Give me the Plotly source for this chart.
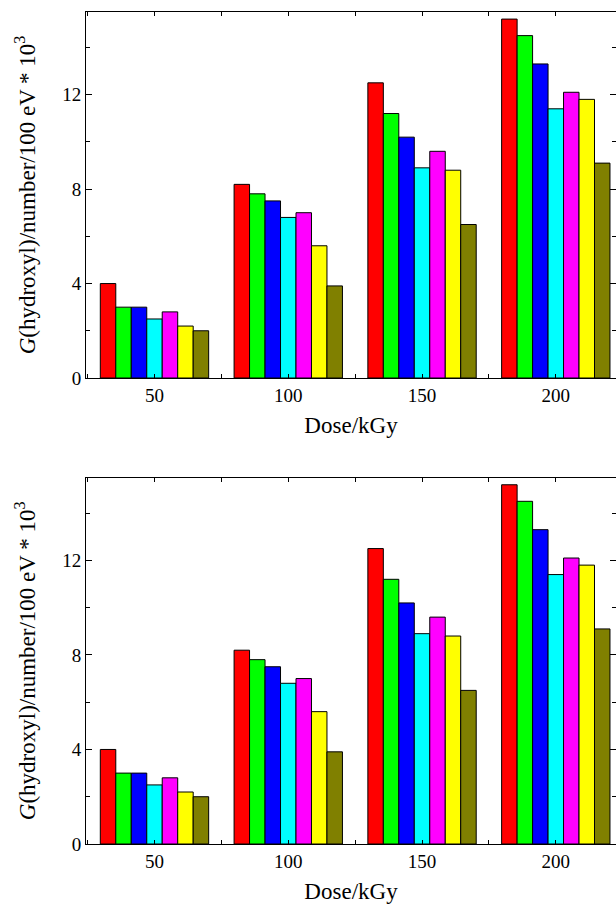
import plotly.graph_objects as go
from plotly.subplots import make_subplots

doses = [50, 100, 150, 200]
series_names = ["S1", "S2", "S3", "S4", "S5", "S6", "S7"]
series_values = [
    [4.0, 8.2, 12.5, 15.2],
    [3.0, 7.8, 11.2, 14.5],
    [3.0, 7.5, 10.2, 13.3],
    [2.5, 6.8, 8.9, 11.4],
    [2.8, 7.0, 9.6, 12.1],
    [2.2, 5.6, 8.8, 11.8],
    [2.0, 3.9, 6.5, 9.1],
]
colors = ["#FF0000", "#00FF00", "#0000FF", "#00FFFF", "#FF00FF", "#FFFF00", "#808000"]
y_major = [0, 4, 8, 12]
x_major = [50, 100, 150, 200]

FONT = "Liberation Serif"
ytitle = "<i>G</i>(hydroxyl)/number/100 eV * 10<sup>3</sup>"

fig = make_subplots(rows=2, cols=1)
for row in (1, 2):
    for name, vals, c in zip(series_names, series_values, colors):
        fig.add_trace(go.Bar(x=doses, y=vals, name=name, marker=dict(color=c, line=dict(color="black", width=1)),
                             showlegend=False), row=row, col=1)

axis_common = dict(showline=True, linecolor="black", linewidth=1, mirror="ticks", showgrid=False, zeroline=False,
                   ticks="inside", tickcolor="black", tickfont=dict(family=FONT, size=19, color="black"))

for row in (1, 2):
    fig.update_xaxes(range=[24.4, 222.5], tickvals=x_major, ticklen=4,
                     minor=dict(dtick=50, tick0=25, ticks="inside", ticklen=4, tickcolor="black"),
                     title=dict(text="Dose/kGy", font=dict(family=FONT, size=23, color="black"), standoff=12),
                     row=row, col=1, **axis_common)
    fig.update_yaxes(range=[0, 15.5], tickvals=y_major, ticklen=6,
                     minor=dict(dtick=2, tick0=0, ticks="inside", ticklen=4, tickcolor="black"),
                     title=dict(text=ytitle, font=dict(family=FONT, size=23, color="black"), standoff=20),
                     row=row, col=1, **axis_common)

fig.update_layout(
    width=616, height=904,
    margin=dict(l=86, r=0, t=12, b=60),
    barmode="group", bargap=0.19, bargroupgap=0,
    plot_bgcolor="white", paper_bgcolor="white",
    font=dict(family=FONT, color="black"),
    xaxis=dict(domain=[0, 1], anchor="y"),
    yaxis=dict(domain=[0.5601, 1]),
    xaxis2=dict(domain=[0, 1], anchor="y2"),
    yaxis2=dict(domain=[0, 0.4403]),
)
fig.write_html("out.html", config={"displayModeBar": False},
               post_script="document.body.style.margin='0';document.body.style.overflow='hidden';")
